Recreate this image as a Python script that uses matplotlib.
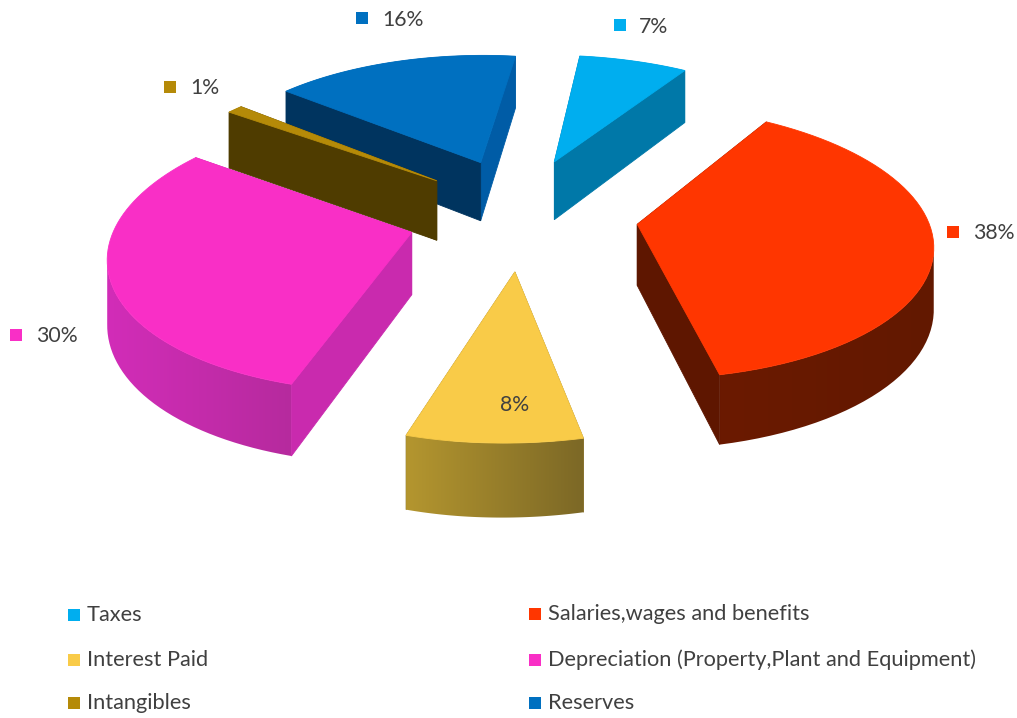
import matplotlib
matplotlib.use('Agg')
import matplotlib.pyplot as plt
import numpy as np
from matplotlib.colors import LinearSegmentedColormap
from matplotlib.patches import Polygon

plt.rcParams['font.family'] = ['Lato', 'DejaVu Sans']

names = ['Taxes', 'Salaries,wages and benefits', 'Interest Paid',
         'Depreciation (Property,Plant and Equipment)', 'Intangibles', 'Reserves']
values = [7, 38, 8, 30, 1, 16]
tops = ['#00AEEF', '#FF3600', '#F9CB48', '#F92FC6', '#B58A08', '#0070C0']
start_walls = ['#0078A8', '#5E1600', '#8A7228', '#C92AAE', '#4F3C00', '#00345F']
end_walls = ['#0078A8', '#5E1600', '#8A7228', '#C92AAE', '#4F3C00', '#005CA6']
# curved wall colour at its left and right end
outer_a = ['#0078A8', '#6B1A00', '#B4962F', '#D22DB8', '#4F3C00', '#005CA6']
outer_b = ['#0078A8', '#621800', '#7C6826', '#B62A9E', '#4F3C00', '#005CA6']
explode = [0.43, 0.4, 0.4, 0.4, 0.4, 0.43]
nudge = [(-7, -2), (-1, 0), (1, 1), (2, 0), (4, -3), (3, -2)]

# data label spots: marker x,y then text x,y
label_xy = [(620, 25, 639, 27), (953, 232, 973, 233), None,
            (16, 335, 36, 336), (170, 87, 190, 88), (362, 18, 382, 20)]
legend_xy = [(74, 615), (535, 614), (74, 660), (535, 660), (74, 703), (535, 703)]

# perspective of the pie plane, all in pixels
xv, xc, yc = 640, 521, 215
rx_right, rx_left, ry = 295, 284, 132
persp = 0.13
skew_x, tilt_y = 20, 15
depth = 61


def proj(X, Y):
    s = 1 / (1 + persp * Y)
    rx = np.where(X > 0, rx_right, rx_left)
    x = xv + (xc - xv + rx * X + skew_x * Y) * s
    y = yc + (-ry * Y + tilt_y * X) * s
    return x, y, s


fig = plt.figure(figsize=(10.17, 7.18), dpi=100)
ax = fig.add_axes([0, 0, 1, 1])

edges = np.cumsum([0] + values) / sum(values) * 2 * np.pi
mids = (edges[:-1] + edges[1:]) / 2

z = 1  # images and patches share one stacking count


def flat_wall(x1, y1, s1, x2, y2, s2, color):
    global z
    pts = [(x1, y1), (x2, y2), (x2, y2 + depth * s2), (x1, y1 + depth * s1)]
    ax.add_patch(Polygon(pts, closed=True, fc=color, ec=color, lw=0.6, zorder=z))
    z += 1


def curved_wall(xs, ys, ss, left, right):
    global z
    # only the stretch between the two x extremes faces the viewer
    a, b = sorted([int(np.argmin(xs)), int(np.argmax(xs))])
    xs, ys, ss = xs[a:b + 1], ys[a:b + 1], ss[a:b + 1]
    low = ys + depth * ss
    outline = np.column_stack([np.r_[xs, xs[::-1]], np.r_[ys, low[::-1]]])
    cmap = LinearSegmentedColormap.from_list('wall', [left, right])
    im = ax.imshow(np.linspace(0, 1, 256)[None, :], cmap=cmap, aspect='auto',
                   extent=(xs.min(), xs.max(), low.max(), ys.min()), zorder=z)
    clip = Polygon(outline, closed=True, fc='none', ec='none', transform=ax.transData)
    ax.add_patch(clip)
    im.set_clip_path(clip)
    z += 1


# far slices first so the near ones cover them
order = np.argsort(-np.cos(mids))
for i in order:
    ax0 = explode[i] * np.sin(mids[i])
    ay0 = explode[i] * np.cos(mids[i])
    t = np.linspace(edges[i], edges[i + 1], 60)
    xa, ya, sa = proj(ax0, ay0)
    xs, ys, ss = proj(ax0 + np.sin(t), ay0 + np.cos(t))
    xa, xs = xa + nudge[i][0], xs + nudge[i][0]
    ya, ys = ya + nudge[i][1], ys + nudge[i][1]

    # walls, sorted so the ones nearer the viewer land on top
    parts = [((ya + ys[0]) / 2, 'start'), ((ya + ys[-1]) / 2, 'end'), (ys.mean(), 'outer')]
    for _, kind in sorted(parts):
        if kind == 'start':
            flat_wall(xa, ya, sa, xs[0], ys[0], ss[0], start_walls[i])
        elif kind == 'end':
            flat_wall(xa, ya, sa, xs[-1], ys[-1], ss[-1], end_walls[i])
        else:
            curved_wall(xs, ys, ss, outer_a[i], outer_b[i])

    top = [(xa, ya)] + list(zip(xs, ys))
    ax.add_patch(Polygon(top, closed=True, fc=tops[i], ec=tops[i], lw=0.6, zorder=z))
    z += 1

for i, v in enumerate(values):
    if label_xy[i] is None:
        continue
    mx, my, tx, ty = label_xy[i]
    ax.scatter([mx], [my], marker='s', s=70, color=tops[i], lw=0, zorder=z)
    ax.text(tx, ty, f'{v}%', fontsize=15.3, color='#404040', va='center', zorder=z)

# this one sits on its own slice, no marker
ax.text(515, 405, f'{values[2]}%', fontsize=15.3, color='#404040', va='center', ha='center', zorder=z)

for i, name in enumerate(names):
    lx, ly = legend_xy[i]
    ax.scatter([lx], [ly], marker='s', s=75, color=tops[i], lw=0, zorder=z)
    ax.text(lx + 13, ly, name, fontsize=15.7, color='#404040', va='center', zorder=z)

# imshow resets the limits, so these come last
ax.set_xlim(0, 1017)
ax.set_ylim(718, 0)
ax.axis('off')

fig.savefig('out.png', dpi=100, facecolor='white')
